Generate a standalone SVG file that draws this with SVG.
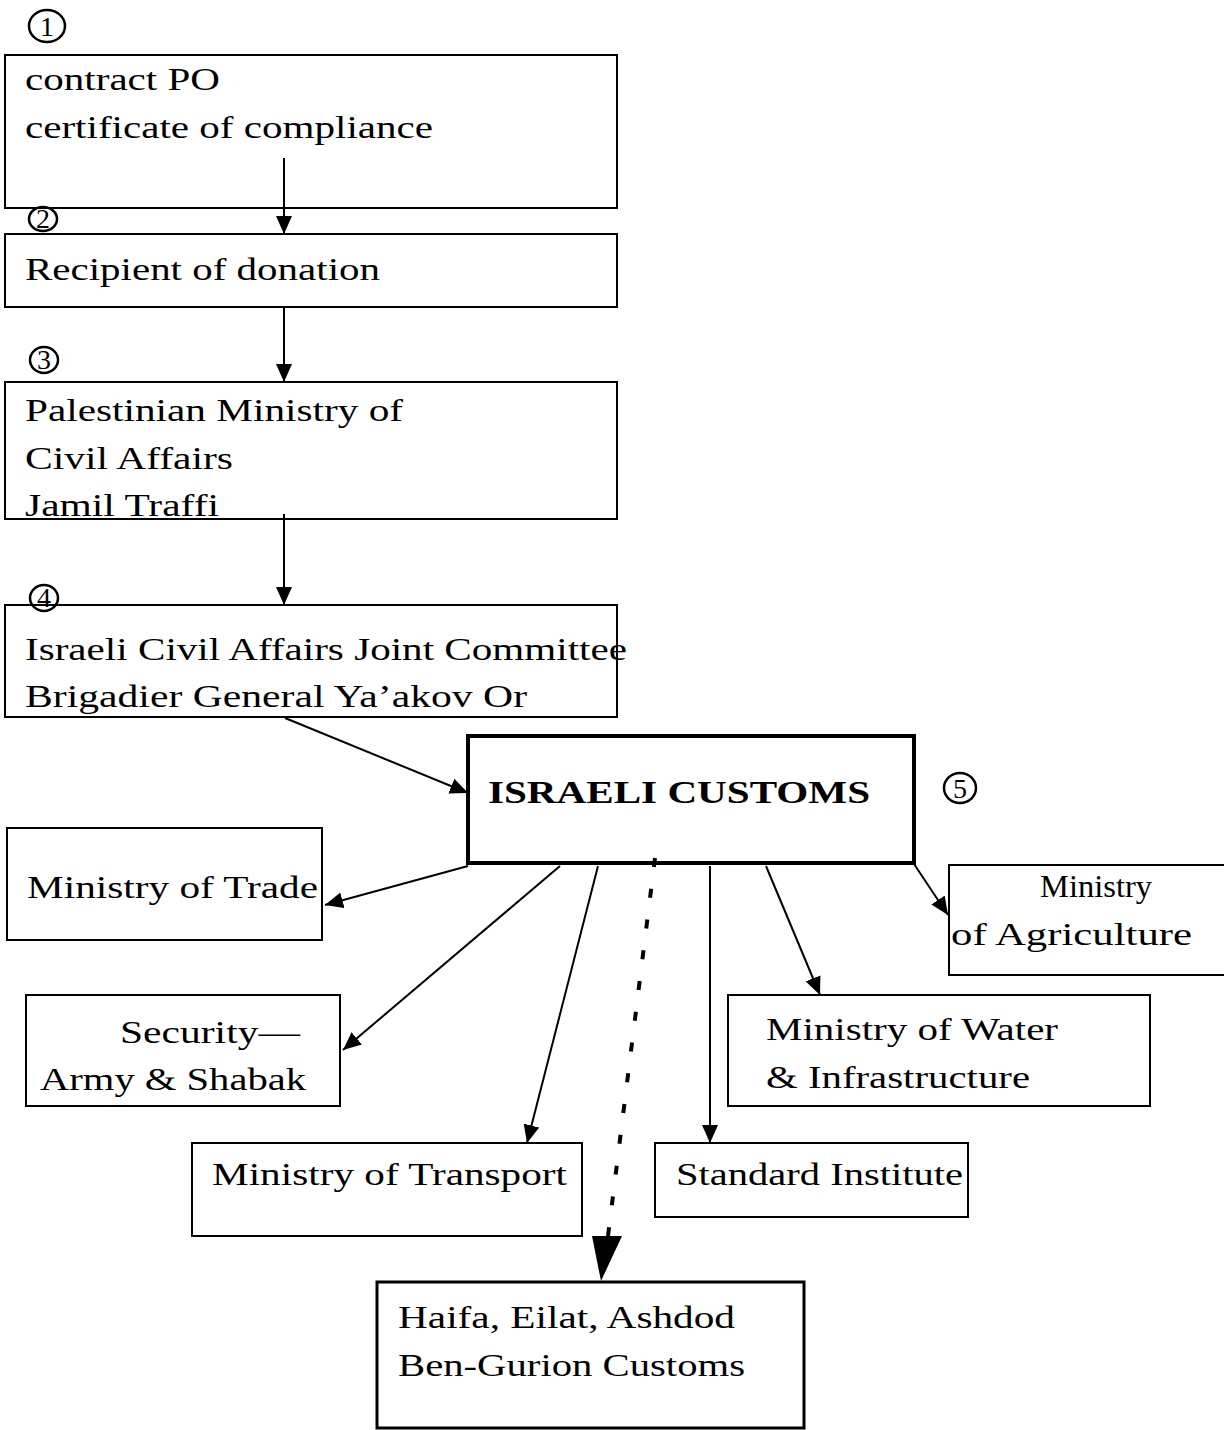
<svg xmlns="http://www.w3.org/2000/svg" width="1224" height="1430" viewBox="0 0 1224 1430">
<style>
.box{fill:none;stroke:#000;stroke-width:2}
.t{font-family:"Liberation Serif","Times New Roman",serif;font-size:32px;fill:#000}
.nc{fill:none;stroke:#000;stroke-width:2.5}
.nd{font-family:"Liberation Serif","Times New Roman",serif;font-size:28px;fill:#000;text-anchor:middle}
.c{stroke:#000;stroke-width:2;fill:none}
</style>
<defs>
<marker id="ah" markerUnits="userSpaceOnUse" markerWidth="20" markerHeight="16" refX="18" refY="8" orient="auto">
<path d="M0,0 L18,8 L0,16 Z" fill="#000"/>
</marker>
</defs>
<rect width="1224" height="1430" fill="#fff"/>
<g id="n1">
<ellipse class="nc" cx="47" cy="26" rx="18" ry="16"/>
<text class="nd" x="47" y="36">1</text>
<rect class="box" x="5" y="55" width="612" height="153"/>
<text class="t" x="25" y="90" textLength="195" lengthAdjust="spacingAndGlyphs">contract PO</text>
<text class="t" x="25" y="138" textLength="408" lengthAdjust="spacingAndGlyphs">certificate of compliance</text>
</g>
<g id="n2">
<ellipse class="nc" cx="43" cy="219" rx="14" ry="12"/>
<text class="nd" x="43" y="228" font-size="25">2</text>
<rect class="box" x="5" y="234" width="612" height="73"/>
<text class="t" x="25" y="280" textLength="355" lengthAdjust="spacingAndGlyphs">Recipient of donation</text>
</g>
<g id="n3">
<ellipse class="nc" cx="44" cy="360" rx="14" ry="13"/>
<text class="nd" x="44" y="369" font-size="25">3</text>
<rect class="box" x="5" y="382" width="612" height="137"/>
<text class="t" x="25" y="421" textLength="378" lengthAdjust="spacingAndGlyphs">Palestinian Ministry of</text>
<text class="t" x="25" y="469" textLength="208" lengthAdjust="spacingAndGlyphs">Civil Affairs</text>
<text class="t" x="25" y="516" textLength="194" lengthAdjust="spacingAndGlyphs">Jamil Traffi</text>
</g>
<g id="n4">
<ellipse class="nc" cx="44" cy="598" rx="14" ry="13"/>
<text class="nd" x="44" y="607" font-size="25">4</text>
<rect class="box" x="5" y="605" width="612" height="112"/>
<text class="t" x="25" y="660" textLength="602" lengthAdjust="spacingAndGlyphs">Israeli Civil Affairs Joint Committee</text>
<text class="t" x="25" y="707" textLength="502" lengthAdjust="spacingAndGlyphs">Brigadier General Ya’akov Or</text>
</g>
<g id="n5">
<rect x="468" y="736" width="446" height="127" fill="none" stroke="#000" stroke-width="4"/>
<text class="t" x="488" y="803" font-weight="bold" textLength="382" lengthAdjust="spacingAndGlyphs">ISRAELI CUSTOMS</text>
<ellipse class="nc" cx="960" cy="788" rx="16" ry="15"/>
<text class="nd" x="960" y="798">5</text>
</g>
<g id="n6">
<rect class="box" x="7" y="828" width="315" height="112"/>
<text class="t" x="27" y="898" textLength="291" lengthAdjust="spacingAndGlyphs">Ministry of Trade</text>
</g>
<g id="n7">
<rect class="box" x="26" y="995" width="314" height="111"/>
<text class="t" x="120" y="1043" textLength="180" lengthAdjust="spacingAndGlyphs">Security—</text>
<text class="t" x="40" y="1090" textLength="266" lengthAdjust="spacingAndGlyphs">Army &amp; Shabak</text>
</g>
<g id="n8">
<rect class="box" x="192" y="1143" width="390" height="93"/>
<text class="t" x="212" y="1185" textLength="355" lengthAdjust="spacingAndGlyphs">Ministry of Transport</text>
</g>
<g id="n9">
<rect x="377" y="1282" width="427" height="146" fill="none" stroke="#000" stroke-width="3"/>
<text class="t" x="398" y="1328" textLength="337" lengthAdjust="spacingAndGlyphs">Haifa, Eilat, Ashdod</text>
<text class="t" x="398" y="1376" textLength="347" lengthAdjust="spacingAndGlyphs">Ben-Gurion Customs</text>
</g>
<g id="n10">
<rect class="box" x="655" y="1143" width="313" height="74"/>
<text class="t" x="676" y="1185" textLength="287" lengthAdjust="spacingAndGlyphs">Standard Institute</text>
</g>
<g id="n11">
<rect class="box" x="728" y="995" width="422" height="111"/>
<text class="t" x="766" y="1040" textLength="292" lengthAdjust="spacingAndGlyphs">Ministry of Water</text>
<text class="t" x="766" y="1088" textLength="264" lengthAdjust="spacingAndGlyphs">&amp; Infrastructure</text>
</g>
<g id="n12">
<rect class="box" x="949" y="865" width="285" height="110"/>
<text class="t" x="1040" y="897" textLength="112" lengthAdjust="spacingAndGlyphs">Ministry</text>
<text class="t" x="951" y="945" textLength="241" lengthAdjust="spacingAndGlyphs">of  Agriculture</text>
</g>
<g id="connectors">
<line class="c" x1="284" y1="158" x2="284" y2="234" marker-end="url(#ah)"/>
<line class="c" x1="284" y1="307" x2="284" y2="382" marker-end="url(#ah)"/>
<line class="c" x1="284" y1="514" x2="284" y2="605" marker-end="url(#ah)"/>
<line class="c" x1="285" y1="718" x2="468" y2="793" marker-end="url(#ah)"/>
<line class="c" x1="468" y1="866" x2="325" y2="905" marker-end="url(#ah)"/>
<line class="c" x1="560" y1="866" x2="343" y2="1050" marker-end="url(#ah)"/>
<line class="c" x1="598" y1="866" x2="527" y2="1143" marker-end="url(#ah)"/>
<line class="c" x1="710" y1="866" x2="710" y2="1143" marker-end="url(#ah)"/>
<line class="c" x1="766" y1="866" x2="820" y2="995" marker-end="url(#ah)"/>
<line class="c" x1="914" y1="864" x2="948" y2="915" marker-end="url(#ah)"/>
<line x1="655" y1="858" x2="608" y2="1236" stroke="#000" stroke-width="4" stroke-dasharray="9 22"/>
<path d="M592,1236 L622,1236 L601,1281 Z" fill="#000"/>
</g>
</svg>
